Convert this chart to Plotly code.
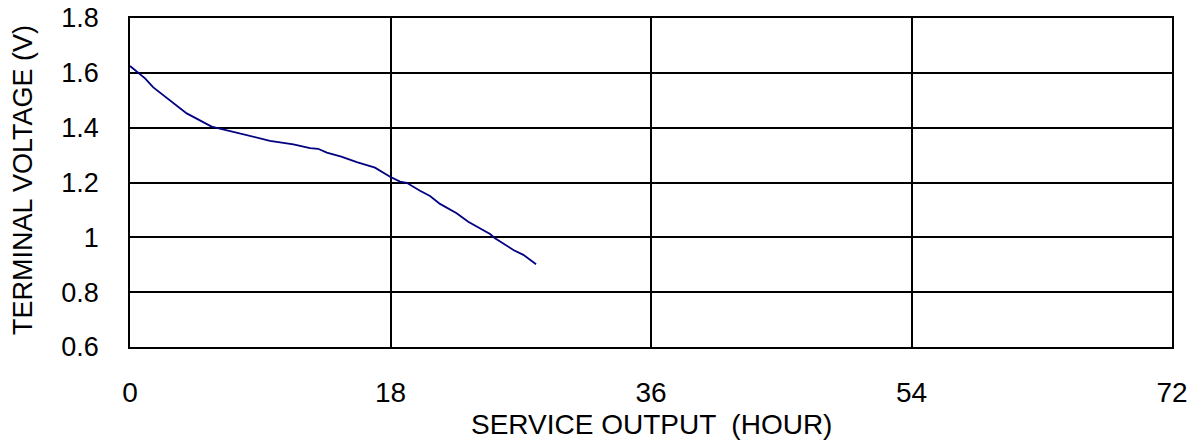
import plotly.graph_objects as go

hours = [0.0, 1.04, 1.61, 3.92, 5.64, 7.83, 9.67, 11.29, 12.44, 13.0, 13.6, 14.6,
         15.67, 16.93, 17.97, 18.66, 19.12, 20.04, 20.73, 21.42, 22.57, 23.37,
         24.18, 24.88, 25.22, 26.49, 27.18, 28.06]
voltage = [1.625, 1.58, 1.547, 1.452, 1.404, 1.377, 1.352, 1.339, 1.325, 1.323, 1.309, 1.294,
           1.274, 1.254, 1.221, 1.203, 1.199, 1.170, 1.151, 1.122, 1.088, 1.057,
           1.033, 1.012, 0.997, 0.954, 0.936, 0.902]

x_ticks = [0, 18, 36, 54, 72]
y_ticks = [0.6, 0.8, 1.0, 1.2, 1.4, 1.6, 1.8]
y_tick_text = ["0.6", "0.8", "1", "1.2", "1.4", "1.6", "1.8"]

x_title = "SERVICE OUTPUT  (HOUR)"
y_title = "TERMINAL VOLTAGE (V)"

font = "Liberation Sans, Arial, sans-serif"

fig = go.Figure()
fig.add_trace(go.Scatter(x=hours, y=voltage, mode="lines",
                         line=dict(color="#000080", width=1.8), showlegend=False))

fig.update_layout(
    width=1198, height=443,
    margin=dict(l=130, r=26, t=18, b=96),
    paper_bgcolor="white", plot_bgcolor="white",
    font=dict(family=font, size=27, color="black"),
    xaxis=dict(range=[0, 72], tickvals=x_ticks, showgrid=True, gridcolor="black",
               gridwidth=1.5, showline=True, linecolor="black", linewidth=1.5,
               mirror=True, zeroline=False, ticks="", ticklabelstandoff=20,
               tickfont=dict(size=28), automargin=False),
    yaxis=dict(range=[0.6, 1.8], tickvals=y_ticks, ticktext=y_tick_text, showgrid=True,
               gridcolor="black", gridwidth=1.5, showline=True, linecolor="black",
               linewidth=1.5, mirror=True, zeroline=False, ticks="",
               ticklabelstandoff=24, tickfont=dict(size=27), automargin=False),
    annotations=[
        dict(text=x_title, xref="paper", yref="paper", x=0.5, y=-0.236,
             xanchor="center", yanchor="middle", showarrow=False,
             font=dict(size=28)),
        dict(text=y_title, xref="paper", yref="paper", x=-0.1027, y=0.5076,
             xanchor="center", yanchor="middle", showarrow=False, textangle=-90,
             font=dict(size=27)),
    ],
)

fig.write_html("out.html", config={"displayModeBar": False},
               post_script="document.body.style.margin='0';")
